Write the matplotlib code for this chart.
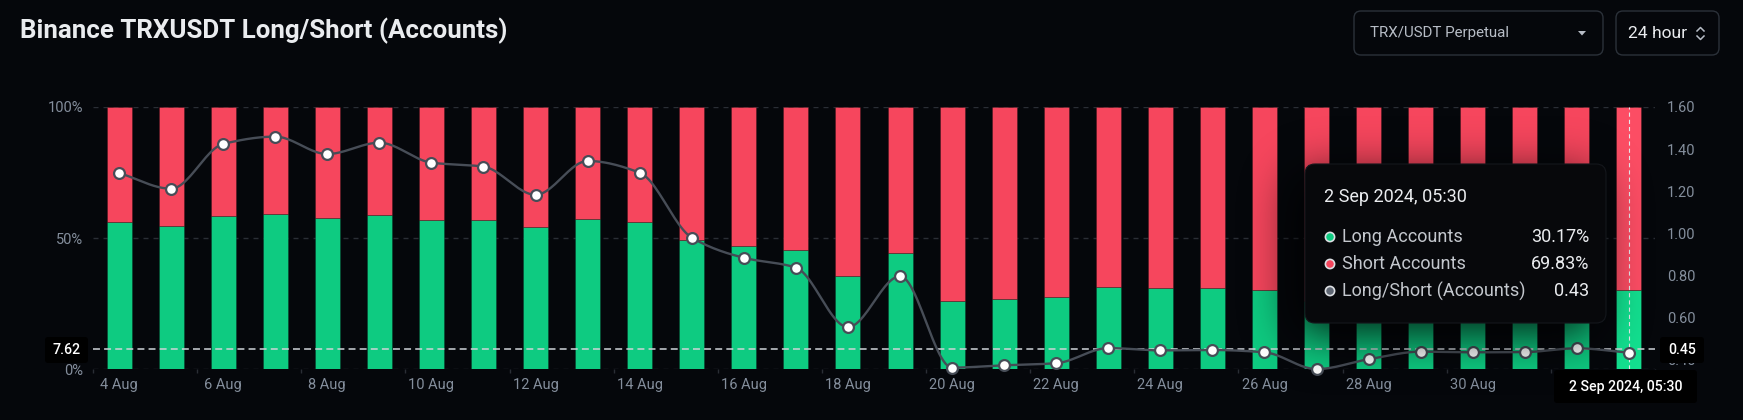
import numpy as np
import matplotlib
matplotlib.use("Agg")
import matplotlib.pyplot as plt
from matplotlib.patches import FancyBboxPatch, Circle, Polygon
from matplotlib.lines import Line2D
from matplotlib.transforms import IdentityTransform

plt.rcParams['font.family'] = ['Roboto', 'DejaVu Sans']
plt.rcParams['lines.scale_dashes'] = False

# ---------------- data ----------------
dates = ['4 Aug', '5 Aug', '6 Aug', '7 Aug', '8 Aug', '9 Aug', '10 Aug', '11 Aug',
         '12 Aug', '13 Aug', '14 Aug', '15 Aug', '16 Aug', '17 Aug', '18 Aug',
         '19 Aug', '20 Aug', '21 Aug', '22 Aug', '23 Aug', '24 Aug', '25 Aug',
         '26 Aug', '27 Aug', '28 Aug', '29 Aug', '30 Aug', '31 Aug', '1 Sep', '2 Sep']
long_pct = [56.2, 54.7, 58.6, 59.3, 57.8, 58.8, 57.0, 56.8, 54.1, 57.3,
            56.3, 49.4, 46.9, 45.5, 35.6, 44.2, 26.2, 26.8, 27.5, 31.3,
            30.9, 30.9, 30.2, 26.0, 28.5, 30.3, 30.2, 30.2, 31.1, 30.17]
short_pct = [round(100 - v, 2) for v in long_pct]
ratio = [1.286, 1.211, 1.424, 1.459, 1.376, 1.430, 1.335, 1.316, 1.182, 1.343,
         1.287, 0.978, 0.882, 0.835, 0.552, 0.794, 0.359, 0.370, 0.380, 0.452,
         0.441, 0.443, 0.432, 0.352, 0.399, 0.435, 0.432, 0.433, 0.451, 0.43]
left_ticks = [0, 50, 100]
left_tick_labels = ['0%', '50%', '100%']
right_ticks = [0.4, 0.6, 0.8, 1.0, 1.2, 1.4, 1.6]
title = 'Binance TRXUSDT Long/Short (Accounts)'
tooltip_date = '2 Sep 2024, 05:30'
tooltip_rows = [('Long Accounts', '30.17%'), ('Short Accounts', '69.83%'),
                ('Long/Short (Accounts)', '0.43')]
cross_left, cross_right, cross_ratio = '7.62', '0.45', 0.448

# ---------------- style ----------------
W, H = 1743, 420
BG = '#05070b'
GREEN, RED = '#0ecb81', '#f6465d'
GREEN_HI, RED_HI = '#13df8f', '#fc4d64'
GRID = '#2a2e35'
TICK = '#848e9c'
LINE = '#474d57'

fig = plt.figure(figsize=(W / 100, H / 100), dpi=100)
fig.patch.set_facecolor(BG)

def fx(x):
    return x / W

def fy(y):
    return 1 - y / H

ax_l, ax_r, ax_t, ax_b = 93, 1655, 107, 369.3
ax = fig.add_axes([fx(ax_l), fy(ax_b), (ax_r - ax_l) / W, (ax_b - ax_t) / H])
ax.set_facecolor(BG)
ax.set_zorder(1)
n = len(dates)
x = np.arange(n)
ax.set_xlim(-0.5, n - 0.5)
ax.set_ylim(0, 100)
for s in ax.spines.values():
    s.set_visible(False)
ax.set_axisbelow(True)
ax.yaxis.grid(True, color=GRID, linestyle=(0, (3.6, 3.6)), linewidth=1)

gcol = [GREEN] * (n - 1) + [GREEN_HI]
rcol = [RED] * (n - 1) + [RED_HI]
ax.bar(x, long_pct, width=0.48, color=gcol, edgecolor=(0, 0, 0, 0.25), linewidth=0.6)
ax.bar(x, short_pct, bottom=long_pct, width=0.48, color=rcol,
       edgecolor=(0, 0, 0, 0.25), linewidth=0.6)

ax.set_yticks(left_ticks)
ax.set_yticklabels(left_tick_labels)
ax.tick_params(axis='y', length=0, pad=7.2, colors=TICK, labelsize=10.5)
ax.set_xticks(x[::2])
ax.set_xticklabels(dates[::2])
ax.set_xticks(np.arange(-0.5, n, 2), minor=True)
ax.tick_params(axis='x', which='major', length=0, pad=6, colors=TICK, labelsize=10.5)
ax.tick_params(axis='x', which='minor', length=3, width=1, color=GRID)

ax2 = ax.twinx()
ax2.set_zorder(2)
ax2.patch.set_visible(False)
for s in ax2.spines.values():
    s.set_visible(False)
ax2.set_ylim(0.351, 1.6)
ax2.set_yticks(right_ticks)
ax2.set_yticklabels(['%.2f' % v for v in right_ticks])
ax2.tick_params(axis='y', length=0, pad=8.6, colors=TICK, labelsize=10.5)

# smooth monotone curve through the ratio points
def monotone_curve(xs, ys, k=24):
    xs = np.asarray(xs, float)
    ys = np.asarray(ys, float)
    h = np.diff(xs)
    d = np.diff(ys) / h
    m = np.zeros_like(ys)
    m[0], m[-1] = d[0], d[-1]
    for i in range(1, len(ys) - 1):
        if d[i - 1] * d[i] <= 0:
            m[i] = 0
        else:
            m[i] = 2 / (1 / d[i - 1] + 1 / d[i])
    px, py = [], []
    for i in range(len(xs) - 1):
        t = np.linspace(0, 1, k, endpoint=False)
        h00 = 2 * t ** 3 - 3 * t ** 2 + 1
        h10 = t ** 3 - 2 * t ** 2 + t
        h01 = -2 * t ** 3 + 3 * t ** 2
        h11 = t ** 3 - t ** 2
        px.append(xs[i] + t * h[i])
        py.append(h00 * ys[i] + h10 * h[i] * m[i] + h01 * ys[i + 1] + h11 * h[i] * m[i + 1])
    px.append([xs[-1]])
    py.append([ys[-1]])
    return np.concatenate(px), np.concatenate(py)

cx, cy = monotone_curve(x, ratio)
ax2.axhline(cross_ratio, color='#cfd3d8', linestyle=(0, (5, 3)), linewidth=1.1, zorder=2)
ax2.axvline(n - 1, color='#e6e8ea', linestyle=(0, (3, 2.2)), linewidth=0.8, zorder=2)
ax2.plot(cx, cy, color=LINE, linewidth=1.7, zorder=3, clip_on=False)
ax2.plot(x, ratio, linestyle='none', marker='o', markersize=7.8, markerfacecolor='white',
         markeredgecolor=LINE, markeredgewidth=1.6, zorder=4, clip_on=False)

# ---------------- title & controls ----------------
t = fig.text(fx(20), fy(38.5), title, color='#eaecef', fontsize=19, fontweight='bold',
             va='baseline', ha='left')
fig.canvas.draw()
bb = t.get_window_extent()
t.set_fontsize(19 * 488 / bb.width)

def rbox(x0, y0, x1, y1, fc, ec='none', lw=0, r=6, z=4):
    p = FancyBboxPatch((x0, H - y1), x1 - x0, y1 - y0,
                       boxstyle='round,pad=0,rounding_size=%g' % r,
                       fc=fc, ec=ec, lw=lw, transform=IdentityTransform(), zorder=z)
    fig.add_artist(p)
    return p

rbox(1354, 11, 1603, 55, BG, '#2b3139', 1.0, r=7)
fig.text(fx(1370), fy(33), 'TRX/USDT Perpetual', color='#b7bdc6', fontsize=10.9,
         va='center', ha='left', zorder=6)
fig.add_artist(Polygon([(1578, H - 31), (1586, H - 31), (1582, H - 35.5)], closed=True,
                       fc='#b7bdc6', ec='none', transform=IdentityTransform(), zorder=5))
rbox(1616, 11, 1719, 55, BG, '#2b3139', 1.0, r=7)
fig.text(fx(1628), fy(33), '24 hour', color='#eaecef', fontsize=12.6,
         va='center', ha='left', zorder=6)
fig.add_artist(Line2D([1697, 1700.5, 1704], [H - 31, H - 27.5, H - 31], color='#b7bdc6',
                      lw=1.1, transform=IdentityTransform(), zorder=5))
fig.add_artist(Line2D([1697, 1700.5, 1704], [H - 36, H - 39.5, H - 36], color='#b7bdc6',
                      lw=1.1, transform=IdentityTransform(), zorder=5))

# ---------------- crosshair labels ----------------
rbox(45, 337, 88, 363, '#000000', r=3)
fig.text(fx(66.5), fy(350), cross_left, color='white', fontsize=10.2, fontweight='medium',
         ha='center', va='center', zorder=6)
rbox(1660, 337, 1704, 363, '#000000', r=3)
fig.text(fx(1682), fy(350), cross_right, color='white', fontsize=10.2, fontweight='medium',
         ha='center', va='center', zorder=6)
rbox(1554, 370, 1697, 403, '#000000', r=3)
fig.text(fx(1625.5), fy(386.5), tooltip_date, color='white', fontsize=10.2,
         fontweight='medium', ha='center', va='center', zorder=6)

# ---------------- tooltip with soft shadow ----------------
bx0, by0, bx1, by1 = 1305, 164, 1606, 323
pad = 100
gx0, gy0 = bx0 - pad, by0 - pad
gw, gh = (bx1 - bx0) + 2 * pad, (by1 - by0) + 2 * pad
mask = np.zeros((gh, gw))
offx, offy = -10, 12
mask[pad + offy:pad + offy + (by1 - by0), pad + offx:pad + offx + (bx1 - bx0)] = 1.0
sig = 24
kk = np.arange(-3 * sig, 3 * sig + 1)
kern = np.exp(-kk ** 2 / (2 * sig ** 2))
kern /= kern.sum()
blur = np.apply_along_axis(lambda r: np.convolve(r, kern, mode='same'), 1, mask)
blur = np.apply_along_axis(lambda c: np.convolve(c, kern, mode='same'), 0, blur)
shadow = np.zeros((gh, gw, 4))
shadow[..., 3] = np.clip(blur * 0.85, 0, 1)
fig.figimage(shadow, xo=gx0, yo=H - (gy0 + gh), origin='upper', zorder=3)

rbox(bx0, by0, bx1, by1, '#07080b', '#14171c', 0.8, r=10, z=4)
fig.text(fx(1324), fy(197), tooltip_date, color='#eaecef', fontsize=13,
         ha='left', va='center', zorder=6)
dot_cols = [GREEN, RED, '#5e6673']
row_y = [237, 264, 291]
for (lab, val), dc, ry in zip(tooltip_rows, dot_cols, row_y):
    fig.add_artist(Circle((1330, H - ry), 4.6, fc=dc, ec='#dcdfe3', lw=1.2,
                          transform=IdentityTransform(), zorder=5))
    fig.text(fx(1341.5), fy(ry), lab, color='#c3c7cd', fontsize=13,
             ha='left', va='center', zorder=6)
    fig.text(fx(1589.5), fy(ry), val, color='#eaecef', fontsize=13,
             ha='right', va='center', zorder=6)

fig.savefig('out.png', dpi=100, facecolor=BG)
